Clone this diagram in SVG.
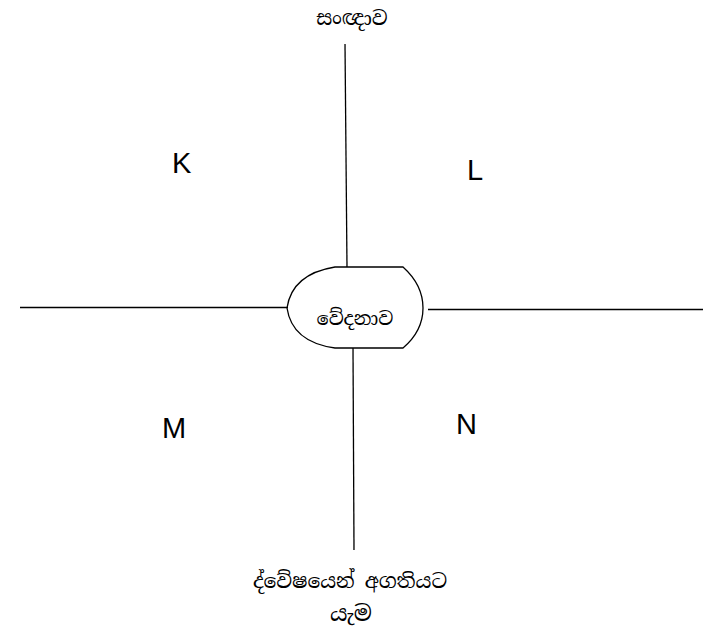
<svg xmlns="http://www.w3.org/2000/svg" width="704" height="628" viewBox="0 0 704 628">
<style>
.ln{stroke:#000;stroke-width:1.3;fill:none}
.lbl{font-family:"Liberation Sans",Arial,sans-serif;font-size:29px;fill:#000}
.si{font-family:"Noto Serif Sinhala","Iskoola Pota","Noto Sans Sinhala",serif;font-size:20px;fill:#000;text-anchor:middle}
</style>
<rect width="704" height="628" fill="#fff"/>
<g id="connectors">
<line class="ln" x1="345" y1="44" x2="347" y2="267"/>
<line class="ln" x1="353" y1="348" x2="354" y2="550"/>
<line class="ln" x1="20" y1="307.5" x2="288" y2="307.5"/>
<line class="ln" x1="428" y1="309.5" x2="703" y2="309.5"/>
</g>
<g id="vedanava">
<path class="ln" d="M335 267 L403 267 Q423 285 423 308 Q423 331 403 348 L335 348 Q292 342 287 308 Q292 274 335 267 Z" fill="#fff"/>
<text class="si" x="355" y="325" style="font-size:19px">වේදනාව</text>
</g>
<g id="sangnava"><text class="si" x="352" y="25">සංඥාව</text></g>
<g id="dvesha">
<text class="si" x="350" y="588">ද්වේෂයෙන් අගතියට</text>
<text class="si" x="351" y="621" style="font-size:22px">යැම</text>
</g>
<g id="K"><text class="lbl" x="172" y="173">K</text></g>
<g id="L"><text class="lbl" x="467" y="180">L</text></g>
<g id="M"><text class="lbl" x="162" y="438">M</text></g>
<g id="N"><text class="lbl" x="456" y="434">N</text></g>
</svg>
